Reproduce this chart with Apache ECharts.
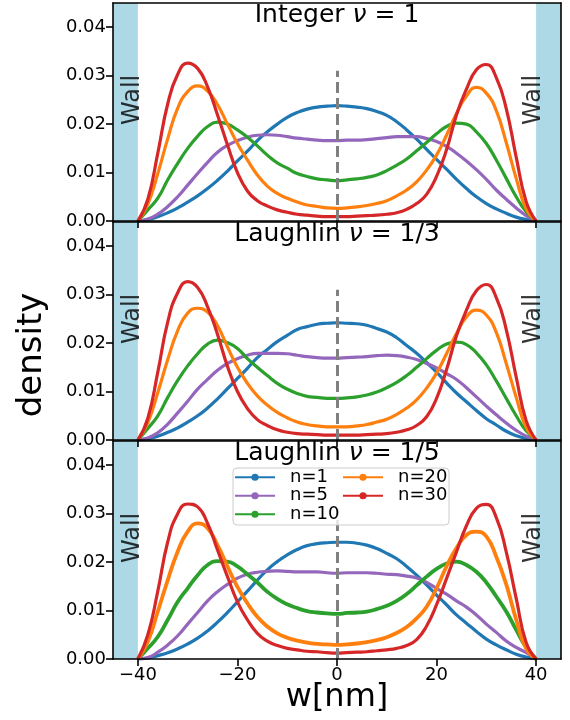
<!DOCTYPE html>
<html>
<head>
<meta charset="utf-8">
<script src="https://cdn.jsdelivr.net/npm/echarts@6/dist/echarts.min.js"></script>
<style>
  html, body { margin: 0; padding: 0; background: #ffffff; }
  #chart { width: 570px; height: 720px; }
</style>
</head>
<body>
<div id="chart"></div>
<script>
// Sampling positions across the channel, in nm
const positions = [-40, -38, -36, -34, -32, -30, -28, -26, -24, -22, -20, -18, -16, -14, -12, -10, -8, -6, -4, -2,
  0, 2, 4, 6, 8, 10, 12, 14, 16, 18, 20, 22, 24, 26, 28, 30, 32, 34, 36, 38, 40];

const xTickValues = [-40, -20, 0, 20, 40];
const yTickValues = [0, 0.01, 0.02, 0.03, 0.04];
const seriesNames = ['n=1', 'n=5', 'n=10', 'n=20', 'n=30'];
const wallRanges = [[-45, -40], [40, 45]];
const panelTitles = [['Integer ', 'ν', ' = 1'], ['Laughlin ', 'ν', ' = 1/3'], ['Laughlin ', 'ν', ' = 1/5']];

// Integer nu = 1
const intN1 = [0, 0.0003, 0.0009, 0.0017, 0.0027, 0.0039, 0.0052, 0.0067, 0.0084, 0.0103, 0.0124, 0.0144, 0.0166, 0.0184, 0.0200, 0.0214, 0.0224, 0.0231, 0.0235, 0.0237,
  0.0238, 0.0237, 0.0235, 0.0232, 0.0226, 0.0218, 0.0205, 0.0188, 0.0169, 0.0148, 0.0127, 0.0107, 0.0086, 0.0067, 0.0050, 0.0036, 0.0025, 0.0016, 0.0008, 0.0003, 0];
const intN5 = [0, 0.0004, 0.0014, 0.0030, 0.0050, 0.0074, 0.0098, 0.0121, 0.0142, 0.0156, 0.0166, 0.0173, 0.0177, 0.0178, 0.0177, 0.0174, 0.0171, 0.0169, 0.0167, 0.0166,
  0.0166, 0.0167, 0.0167, 0.0168, 0.0170, 0.0172, 0.0174, 0.0174, 0.0174, 0.0170, 0.0164, 0.0154, 0.0140, 0.0124, 0.0106, 0.0086, 0.0064, 0.0045, 0.0027, 0.0011, 0];
const intN10 = [0, 0.0023, 0.0047, 0.0085, 0.0119, 0.0150, 0.0175, 0.0195, 0.0204, 0.0200, 0.0188, 0.0173, 0.0155, 0.0136, 0.0120, 0.0109, 0.0098, 0.0092, 0.0087, 0.0085,
  0.0083, 0.0085, 0.0087, 0.0090, 0.0095, 0.0104, 0.0115, 0.0128, 0.0145, 0.0162, 0.0180, 0.0195, 0.0202, 0.0200, 0.0184, 0.0160, 0.0126, 0.0088, 0.0050, 0.0019, 0];
const intN20 = [0, 0.0035, 0.0098, 0.0170, 0.0233, 0.0267, 0.0279, 0.0268, 0.0240, 0.0200, 0.0160, 0.0126, 0.0095, 0.0072, 0.0057, 0.0047, 0.0039, 0.0033, 0.0030, 0.0027,
  0.0026, 0.0027, 0.0029, 0.0032, 0.0036, 0.0042, 0.0052, 0.0064, 0.0081, 0.0105, 0.0136, 0.0177, 0.0222, 0.0258, 0.0276, 0.0264, 0.0228, 0.0162, 0.0088, 0.0025, 0];
const intN30 = [0, 0.0045, 0.0140, 0.0242, 0.0303, 0.0326, 0.0315, 0.0277, 0.0219, 0.0157, 0.0100, 0.0062, 0.0042, 0.0031, 0.0023, 0.0018, 0.0014, 0.0012, 0.0010, 0.0009,
  0.0009, 0.0009, 0.0010, 0.0011, 0.0012, 0.0014, 0.0017, 0.0024, 0.0036, 0.0055, 0.0092, 0.0147, 0.0219, 0.0272, 0.0312, 0.0323, 0.0296, 0.0232, 0.0132, 0.0040, 0];

// Laughlin nu = 1/3
const l3N1 = [0, 0.0003, 0.0008, 0.0016, 0.0025, 0.0037, 0.0050, 0.0066, 0.0085, 0.0106, 0.0127, 0.0148, 0.0170, 0.0187, 0.0203, 0.0216, 0.0228, 0.0234, 0.0239, 0.0241,
  0.0242, 0.0241, 0.0240, 0.0237, 0.0230, 0.0223, 0.0211, 0.0195, 0.0179, 0.0160, 0.0140, 0.0118, 0.0097, 0.0079, 0.0061, 0.0044, 0.0031, 0.0018, 0.0009, 0.0003, 0];
const l3N5 = [0, 0.0004, 0.0015, 0.0033, 0.0056, 0.0080, 0.0105, 0.0125, 0.0144, 0.0158, 0.0168, 0.0175, 0.0179, 0.0179, 0.0179, 0.0178, 0.0175, 0.0172, 0.0170, 0.0169,
  0.0169, 0.0170, 0.0171, 0.0172, 0.0174, 0.0175, 0.0174, 0.0171, 0.0166, 0.0158, 0.0149, 0.0137, 0.0125, 0.0108, 0.0089, 0.0070, 0.0052, 0.0035, 0.0020, 0.0008, 0];
const l3N10 = [0, 0.0024, 0.0050, 0.0088, 0.0123, 0.0153, 0.0178, 0.0198, 0.0206, 0.0201, 0.0189, 0.0168, 0.0150, 0.0133, 0.0117, 0.0105, 0.0096, 0.0090, 0.0088, 0.0086,
  0.0086, 0.0087, 0.0089, 0.0093, 0.0099, 0.0108, 0.0119, 0.0133, 0.0150, 0.0168, 0.0185, 0.0198, 0.0202, 0.0197, 0.0180, 0.0155, 0.0122, 0.0086, 0.0050, 0.0019, 0];
const l3N20 = [0, 0.0036, 0.0098, 0.0166, 0.0226, 0.0262, 0.0272, 0.0264, 0.0236, 0.0192, 0.0150, 0.0117, 0.0091, 0.0072, 0.0057, 0.0046, 0.0037, 0.0032, 0.0029, 0.0027,
  0.0027, 0.0027, 0.0029, 0.0032, 0.0037, 0.0043, 0.0053, 0.0066, 0.0083, 0.0107, 0.0138, 0.0178, 0.0220, 0.0254, 0.0268, 0.0258, 0.0222, 0.0158, 0.0088, 0.0026, 0];
const l3N30 = [0, 0.0045, 0.0140, 0.0244, 0.0304, 0.0327, 0.0315, 0.0275, 0.0218, 0.0152, 0.0100, 0.0065, 0.0042, 0.0030, 0.0021, 0.0016, 0.0013, 0.0012, 0.0011, 0.0010,
  0.0010, 0.0010, 0.0010, 0.0011, 0.0012, 0.0013, 0.0016, 0.0021, 0.0030, 0.0048, 0.0086, 0.0145, 0.0215, 0.0268, 0.0308, 0.0321, 0.0294, 0.0228, 0.0130, 0.0040, 0];

// Laughlin nu = 1/5
const l5N1 = [0, 0.0002, 0.0007, 0.0013, 0.0021, 0.0031, 0.0043, 0.0058, 0.0076, 0.0096, 0.0118, 0.0140, 0.0163, 0.0184, 0.0201, 0.0215, 0.0226, 0.0234, 0.0238, 0.0240,
  0.0241, 0.0241, 0.0239, 0.0235, 0.0228, 0.0218, 0.0207, 0.0191, 0.0173, 0.0153, 0.0132, 0.0112, 0.0091, 0.0074, 0.0057, 0.0041, 0.0029, 0.0019, 0.0010, 0.0004, 0];
const l5N5 = [0, 0.0003, 0.0014, 0.0029, 0.0048, 0.0072, 0.0096, 0.0120, 0.0139, 0.0154, 0.0167, 0.0175, 0.0179, 0.0181, 0.0182, 0.0181, 0.0180, 0.0180, 0.0180, 0.0178,
  0.0177, 0.0178, 0.0178, 0.0178, 0.0177, 0.0175, 0.0174, 0.0171, 0.0167, 0.0158, 0.0146, 0.0134, 0.0120, 0.0107, 0.0091, 0.0072, 0.0055, 0.0037, 0.0024, 0.0013, 0];
const l5N10 = [0, 0.0022, 0.0046, 0.0081, 0.0118, 0.0146, 0.0173, 0.0194, 0.0202, 0.0201, 0.0191, 0.0175, 0.0158, 0.0139, 0.0124, 0.0113, 0.0105, 0.0099, 0.0096, 0.0094,
  0.0093, 0.0095, 0.0096, 0.0098, 0.0103, 0.0110, 0.0120, 0.0134, 0.0152, 0.0170, 0.0186, 0.0197, 0.0201, 0.0194, 0.0180, 0.0158, 0.0129, 0.0098, 0.0060, 0.0024, 0];
const l5N20 = [0, 0.0036, 0.0098, 0.0163, 0.0222, 0.0263, 0.0280, 0.0270, 0.0235, 0.0191, 0.0149, 0.0115, 0.0087, 0.0067, 0.0053, 0.0044, 0.0038, 0.0034, 0.0031, 0.0030,
  0.0029, 0.0030, 0.0032, 0.0035, 0.0039, 0.0045, 0.0054, 0.0066, 0.0084, 0.0108, 0.0146, 0.0191, 0.0229, 0.0256, 0.0263, 0.0253, 0.0211, 0.0154, 0.0081, 0.0022, 0];
const l5N30 = [0, 0.0050, 0.0140, 0.0242, 0.0300, 0.0320, 0.0314, 0.0280, 0.0225, 0.0170, 0.0118, 0.0081, 0.0053, 0.0037, 0.0028, 0.0022, 0.0019, 0.0016, 0.0015, 0.0013,
  0.0012, 0.0013, 0.0014, 0.0015, 0.0017, 0.0019, 0.0022, 0.0028, 0.0040, 0.0068, 0.0112, 0.0166, 0.0221, 0.0275, 0.0311, 0.0319, 0.0292, 0.0221, 0.0125, 0.0034, 0];

const panelCurves = [
  [intN1, intN5, intN10, intN20, intN30],
  [l3N1, l3N5, l3N10, l3N20, l3N30],
  [l5N1, l5N5, l5N10, l5N20, l5N30]
];

// matplotlib tab10 colours, in the order n=1, 5, 10, 20, 30
const colors = ['#1f77b4', '#9467bd', '#2ca02c', '#ff7f0e', '#d62728'];
const FONT = 'DejaVu Sans';
const gridTops = [3, 222, 441];
const GRID_LEFT = 113, GRID_WIDTH = 448, GRID_HEIGHT = 218;
const X_MIN = -45, X_MAX = 45, Y_MIN = 0, Y_MAX = 0.045;
const frameStyle = { color: '#000000', width: 1.6 };

const fmtX = v => (v < 0 ? '\u2212' + (-v) : String(v));
const fmtY = v => v.toFixed(2);

const grid = [], xAxis = [], yAxis = [], series = [];

panelCurves.forEach((curves, i) => {
  grid.push({ left: GRID_LEFT, width: GRID_WIDTH, top: gridTops[i], height: GRID_HEIGHT });

  xAxis.push({
    type: 'value', gridIndex: i, min: X_MIN, max: X_MAX, position: 'bottom', z: 10,
    axisLine: { show: true, onZero: false, lineStyle: frameStyle },
    axisTick: { show: true, customValues: xTickValues, length: 7, lineStyle: frameStyle },
    axisLabel: { show: i === 2, customValues: xTickValues, formatter: fmtX, fontSize: 18, color: '#000', margin: 7, fontFamily: FONT },
    splitLine: { show: false }
  });
  yAxis.push({
    type: 'value', gridIndex: i, min: Y_MIN, max: Y_MAX, position: 'left', z: 10,
    axisLine: { show: true, onZero: false, lineStyle: frameStyle },
    axisTick: { show: true, customValues: yTickValues, length: 7, lineStyle: frameStyle },
    axisLabel: { show: true, customValues: yTickValues, formatter: fmtY, fontSize: 18, color: '#000', margin: 7, fontFamily: FONT },
    splitLine: { show: false }
  });

  // shaded wall regions at both channel edges
  series.push({
    type: 'custom', xAxisIndex: i, yAxisIndex: i, z: 1, silent: true,
    data: wallRanges,
    renderItem: (params, api) => {
      const p0 = api.coord([api.value(0), Y_MAX]);
      const p1 = api.coord([api.value(1), Y_MIN]);
      return {
        type: 'rect',
        shape: { x: p0[0], y: p0[1], width: p1[0] - p0[0], height: p1[1] - p0[1] },
        style: { fill: '#add8e6' }
      };
    }
  });

  curves.forEach((vals, k) => {
    const thick = (i === 2 && (k === 2 || k === 3)) ? 3.8 : 3.2;
    series.push({
      type: 'line', name: seriesNames[k], xAxisIndex: i, yAxisIndex: i, z: 3,
      data: positions.map((x, j) => [x, vals[j]]),
      smooth: true, showSymbol: false, symbol: 'circle',
      lineStyle: { color: colors[k], width: thick },
      itemStyle: { color: colors[k] },
      silent: true
    });
  });

  // wall captions and the dashed centre line
  series.push({
    type: 'scatter', xAxisIndex: i, yAxisIndex: i, z: 5, silent: true, symbolSize: 0,
    data: [[-41.0, 0.025], [39.6, 0.025]],
    label: {
      show: true, formatter: 'Wall', rotate: 90, position: 'inside', fontSize: 24,
      color: '#000', textBorderWidth: 0, fontFamily: FONT
    },
    markLine: {
      silent: true, symbol: ['none', 'none'], label: { show: false },
      lineStyle: { color: '#808080', width: 3, type: [11, 5] },
      data: [[{ coord: [0, 0] }, { coord: [0, 0.031] }]]
    }
  });
});

// top and right frame edges
panelCurves.forEach((c, i) => {
  xAxis.push({
    type: 'value', gridIndex: i, min: X_MIN, max: X_MAX, position: 'top', z: 10,
    axisLine: { show: true, onZero: false, lineStyle: frameStyle },
    axisTick: { show: false }, axisLabel: { show: false }, splitLine: { show: false }
  });
  yAxis.push({
    type: 'value', gridIndex: i, min: Y_MIN, max: Y_MAX, position: 'right', z: 10,
    axisLine: { show: true, onZero: false, lineStyle: frameStyle },
    axisTick: { show: false }, axisLabel: { show: false }, splitLine: { show: false }
  });
});

const legendCommon = {
  orient: 'vertical', top: 468, itemWidth: 40, itemHeight: 9, itemGap: 0, padding: 0,
  selectedMode: false, z: 20,
  lineStyle: { width: 2 },
  textStyle: { fontSize: 18, color: '#000', fontFamily: FONT, lineHeight: 18.5, padding: [0, 0, 0, 10] }
};

const chart = echarts.init(document.getElementById('chart'), null, { renderer: 'canvas' });
chart.setOption({
  animation: false,
  backgroundColor: '#ffffff',
  textStyle: { fontFamily: FONT },
  grid, xAxis, yAxis, series,
  legend: [
    Object.assign({}, legendCommon, { left: 234, data: seriesNames.slice(0, 3) }),
    Object.assign({}, legendCommon, { left: 342, data: seriesNames.slice(3) })
  ]
});

// panel titles, axis names and legend frame
const graphics = panelTitles.map((parts, i) => {
  const anchor = chart.convertToPixel({ xAxisIndex: i, yAxisIndex: i }, [0, Y_MAX]);
  return {
    type: 'text', x: anchor[0], y: anchor[1], z: 30, silent: true,
    style: {
      text: '{r|' + parts[0] + '}{i|' + parts[1] + '}{r|' + parts[2] + '}',
      align: 'center', verticalAlign: 'top', fill: '#000',
      rich: {
        r: { fontSize: 25, fontFamily: FONT, fill: '#000' },
        i: { fontSize: 25, fontFamily: FONT, fontStyle: 'italic', fill: '#000' }
      }
    }
  };
});
const bottomMid = chart.convertToPixel({ xAxisIndex: 2, yAxisIndex: 2 }, [0, Y_MIN]);
graphics.push({
  type: 'text', x: bottomMid[0], y: 698, z: 30, silent: true,
  style: { text: 'w[nm]', fontSize: 32, fontFamily: FONT, fill: '#000', align: 'center', verticalAlign: 'middle' }
});
graphics.push({
  type: 'text', x: 32, y: 355, rotation: Math.PI / 2, z: 30, silent: true,
  style: { text: 'density', fontSize: 34, fontFamily: FONT, fill: '#000', align: 'center', verticalAlign: 'middle' }
});
graphics.push({
  type: 'rect', z: 15, silent: true,
  shape: { x: 233, y: 468, width: 216, height: 57, r: 4 },
  style: { fill: 'rgba(255,255,255,0.8)', stroke: '#cccccc', lineWidth: 1 }
});
chart.setOption({ graphic: graphics });
</script>
</body>
</html>
